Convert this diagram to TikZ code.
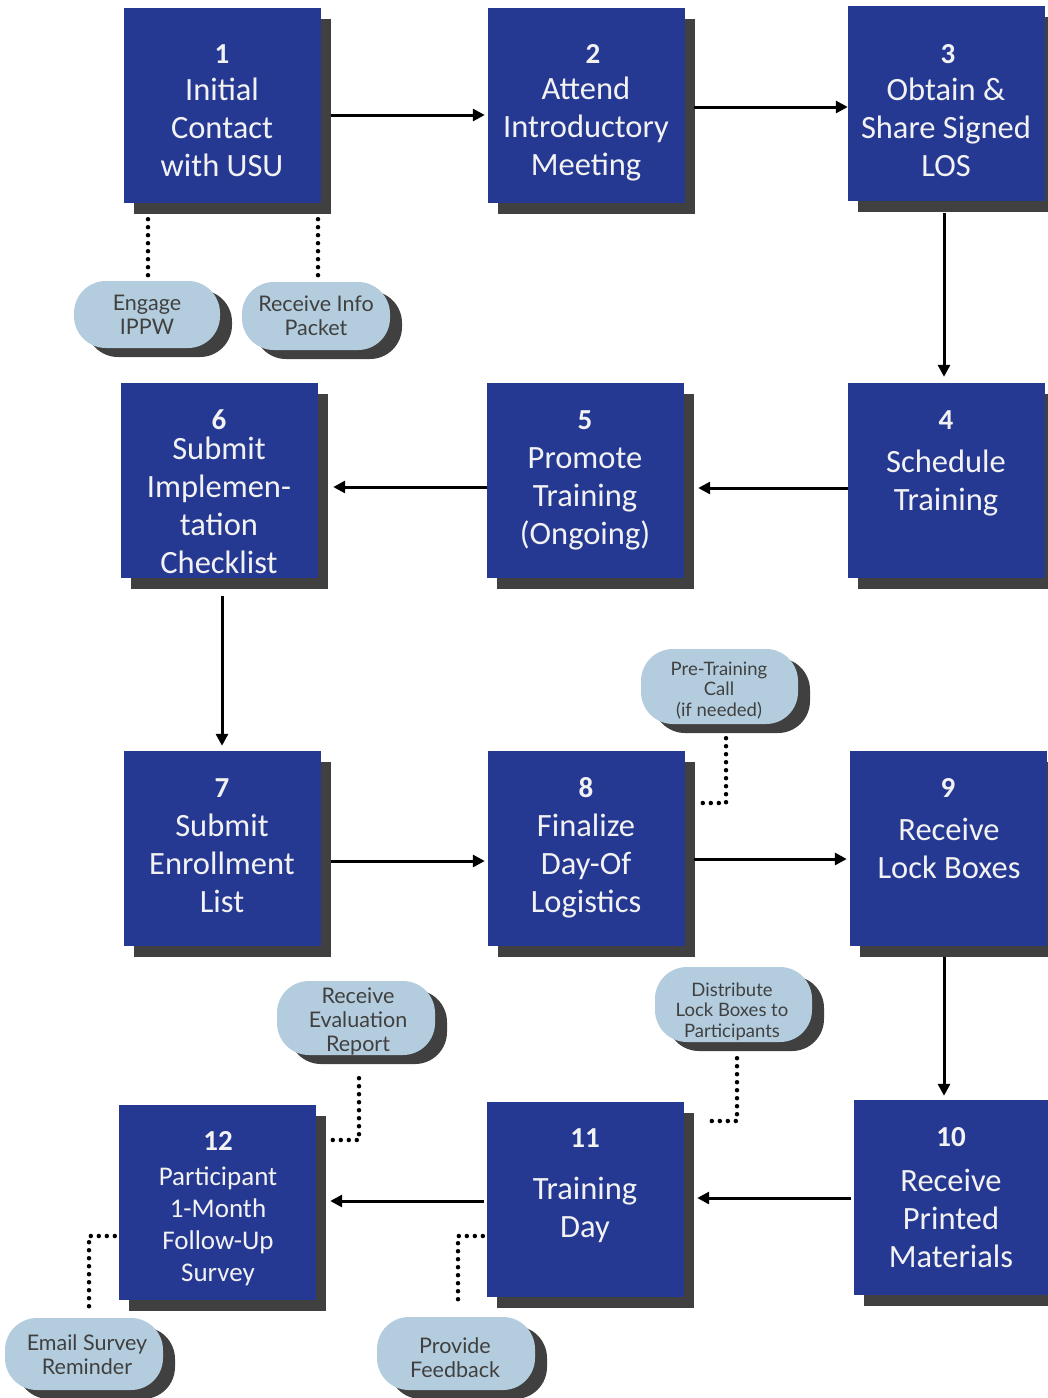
\documentclass[tikz,border=0pt]{standalone}
\usepackage{fontspec}
\setmainfont{Carlito}
\newfontfamily\ellfont{Lato}
\usetikzlibrary{shadows,calc,arrows.meta}
\definecolor{boxblue}{RGB}{38,57,146}
\definecolor{shadegray}{RGB}{64,64,64}
\definecolor{ellblue}{RGB}{180,205,222}
\definecolor{elltext}{RGB}{64,64,64}
\definecolor{boxtext}{RGB}{242,242,242}
\begin{document}
\begin{tikzpicture}[x=1pt,y=-1pt,
 stepbox/.style={fill=boxblue, minimum width=197pt, minimum height=195pt, inner sep=0pt,
   drop shadow={shadow xshift=10pt, shadow yshift=-11pt, fill=shadegray, opacity=1}},
 numtext/.style={text=boxtext, inner sep=0pt, font=\fontsize{29}{34}\selectfont\bfseries},
 bodytext/.style={text=boxtext, align=center, inner sep=0pt, font=\fontsize{32.5}{38}\selectfont},
 smallbody/.style={text=boxtext, align=center, inner sep=0pt, font=\fontsize{27}{32}\selectfont},
 oval/.style={fill=ellblue, rounded corners=32pt, inner sep=0pt,
   drop shadow={shadow xshift=12pt, shadow yshift=-9pt, fill=shadegray, opacity=1}},
 ovaltext/.style={text=elltext, align=center, inner sep=0pt, font=\ellfont\fontsize{21.5}{24}\selectfont},
 smalloval/.style={text=elltext, align=center, inner sep=0pt, font=\ellfont\fontsize{18.5}{20.5}\selectfont},
 arrow/.style={line width=3pt, -{Triangle[length=12pt,width=12pt]}},
 dots/.style={line width=4.5pt, dash pattern=on 0pt off 8pt, line cap=round}
]
\useasboundingbox[fill=white] (0,0) rectangle (1048,1398);

% boxes
\node[stepbox] (b1) at (222.5,105.5) {};
\node[stepbox] (b2) at (586.5,105.5) {};
\node[stepbox] (b3) at (946.5,103) {};
\node[stepbox] (b4) at (946.5,480.5) {};
\node[stepbox] (b5) at (585.5,480.5) {};
\node[stepbox] (b6) at (219.5,480.5) {};
\node[stepbox] (b7) at (222.5,848.5) {};
\node[stepbox] (b8) at (586.5,848.5) {};
\node[stepbox] (b9) at (948.5,848.5) {};
\node[stepbox] (b10) at (952,1197.5) {};
\node[stepbox] (b11) at (585.5,1199.5) {};
\node[stepbox] (b12) at (217.5,1202) {};

% numbers
\node[numtext] (n1) at (222,54) {1};
\node[numtext] (n2) at (593,54) {2};
\node[numtext] (n3) at (948,54) {3};
\node[numtext] (n4) at (946,420) {4};
\node[numtext] (n5) at (585,420) {5};
\node[numtext] (n6) at (219,420) {6};
\node[numtext] (n7) at (222,788) {7};
\node[numtext] (n8) at (586,788) {8};
\node[numtext] (n9) at (948,788) {9};
\node[numtext] (n10) at (951,1137) {10};
\node[numtext] (n11) at (585,1138) {11};
\node[numtext] (n12) at (218,1141) {12};

% body texts
\node[bodytext] (t1) at (222,127) {Initial\\Contact\\with USU};
\node[bodytext] (t2) at (586,129) {Attend\\Introductory\\Meeting};
\node[bodytext] (t3) at (946,127) {Obtain \&\\Share Signed\\LOS};
\node[bodytext] (t4) at (946,483) {Schedule\\Training};
\node[bodytext] (t5) at (585,499) {Promote\\Training\\(Ongoing)};
\node[bodytext] (t6) at (219,505) {Submit\\Implemen-\\tation\\Checklist};
\node[bodytext] (t7) at (222,863) {Submit\\Enrollment\\List};
\node[bodytext] (t8) at (586,866) {Finalize\\Day-Of\\Logistics};
\node[bodytext] (t9) at (949,848) {Receive\\Lock Boxes};
\node[bodytext] (t10) at (951,1218) {Receive\\Printed\\Materials};
\node[bodytext] (t11) at (585,1210) {Training\\Day};
\node[smallbody] (t12) at (218,1226) {Participant\\1-Month\\Follow-Up\\Survey};

% ovals
\node[oval, minimum width=146pt, minimum height=67pt] (e1) at (147,314.5) {};
\node[oval, minimum width=148pt, minimum height=68pt] (e2) at (316,316) {};
\node[oval, minimum width=157pt, minimum height=75pt] (e3) at (719.5,686.5) {};
\node[oval, minimum width=158pt, minimum height=74pt] (e4) at (356,1018) {};
\node[oval, minimum width=157pt, minimum height=75pt] (e5) at (733.5,1004.5) {};
\node[oval, minimum width=158pt, minimum height=72pt] (e6) at (84,1354) {};
\node[oval, minimum width=158pt, minimum height=73pt] (e7) at (456,1353.5) {};

\node[ovaltext] (o1) at (147,315) {Engage\\IPPW};
\node[ovaltext] (o2) at (316,316) {Receive Info\\Packet};
\node[smalloval] (o3) at (719,690.5) {Pre-Training\\Call\\(if needed)};
\node[ovaltext] (o4) at (358,1021.5) {Receive\\Evaluation\\Report};
\node[smalloval] (o5) at (732,1011.5) {Distribute\\Lock Boxes to\\Participants};
\node[ovaltext] (o6) at (87,1355) {Email Survey\\Reminder};
\node[ovaltext] (o7) at (455,1358) {Provide\\Feedback};

% arrows
\draw[arrow] ($(b1.east)+(10,9.5)$) -- ($(b2.west)+(-3,9.5)$);
\draw[arrow] ($(b2.east)+(9,1.5)$) -- ($(b3.west)+(0,4)$);
\draw[arrow] ($(b3.south)+(-2.5,12)$) -- ($(b4.north)+(-2.5,-6)$);
\draw[arrow] ($(b4.west)+(0,7.5)$) -- ($(b5.east)+(14,7.5)$);
\draw[arrow] ($(b5.west)+(0,6.5)$) -- ($(b6.east)+(15,6.5)$);
\draw[arrow] ($(b6.south)+(2.5,18)$) -- ($(b7.north)+(-0.5,-5)$);
\draw[arrow] ($(b7.east)+(10,12.5)$) -- ($(b8.west)+(-3,12.5)$);
\draw[arrow] ($(b8.east)+(9,10.5)$) -- ($(b9.west)+(-3,10.5)$);
\draw[arrow] ($(b9.south)+(-4.5,11)$) -- ($(b10.north)+(-8,-4)$);
\draw[arrow] ($(b10.west)+(-2,0.5)$) -- ($(b11.east)+(13,-1.5)$);
\draw[arrow] ($(b11.west)+(-3,1.5)$) -- ($(b12.east)+(14,-1)$);

% dotted connectors
\draw[dots] ($(b1.south)+(-74.5,16)$) -- ($(e1.north)+(1,-5)$);
\draw[dots] ($(b1.south)+(95.5,16)$) -- ($(e2.north)+(2,-6)$);
\draw[dots] ($(e3.south)+(6.5,14)$) |- ($(b8.east)+(12,-45.5)$);
\draw[dots] ($(e4.south)+(3,23)$) |- ($(b12.east)+(14,-62)$);
\draw[dots] ($(e5.south)+(3.5,16)$) |- ($(b11.east)+(21,-78.5)$);
\draw[dots] ($(b12.west)+(-4,34)$) -| ($(e6.north)+(5,-11)$);
\draw[dots] ($(b11.west)+(-4,36.5)$) -| ($(e7.north)+(2,-10)$);
\end{tikzpicture}
\end{document}
